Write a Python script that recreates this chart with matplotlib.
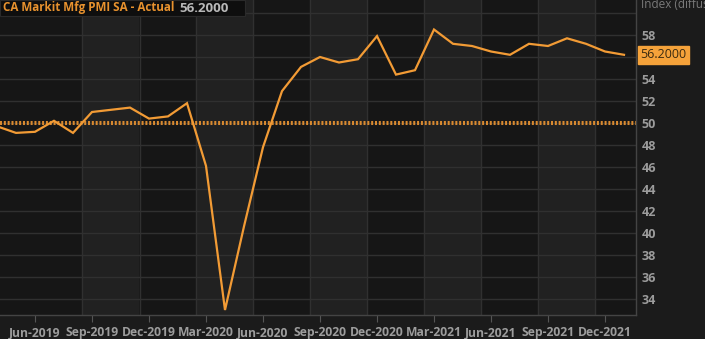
import matplotlib
matplotlib.use("Agg")
import matplotlib.pyplot as plt
from matplotlib.patches import Rectangle

# ---- data ----
months = ["Apr-2019", "May-2019", "Jun-2019", "Jul-2019", "Aug-2019", "Sep-2019", "Oct-2019",
          "Nov-2019", "Dec-2019", "Jan-2020", "Feb-2020", "Mar-2020", "Apr-2020", "May-2020",
          "Jun-2020", "Jul-2020", "Aug-2020", "Sep-2020", "Oct-2020", "Nov-2020", "Dec-2020",
          "Jan-2021", "Feb-2021", "Mar-2021", "Apr-2021", "May-2021", "Jun-2021", "Jul-2021",
          "Aug-2021", "Sep-2021", "Oct-2021", "Nov-2021", "Dec-2021", "Jan-2022"]
pmi = [49.7, 49.1, 49.2, 50.2, 49.1, 51.0, 51.2, 51.4, 50.4, 50.6, 51.8, 46.1, 33.0, 40.6,
       47.8, 52.9, 55.1, 56.0, 55.5, 55.8, 57.9, 54.4, 54.8, 58.5, 57.2, 57.0, 56.5, 56.2,
       57.2, 57.0, 57.7, 57.2, 56.5, 56.2]
tick_labels = ["Jun-2019", "Sep-2019", "Dec-2019", "Mar-2020", "Jun-2020", "Sep-2020",
               "Dec-2020", "Mar-2021", "Jun-2021", "Sep-2021", "Dec-2021"]
y_ticks = [34, 36, 38, 40, 42, 44, 46, 48, 50, 52, 54, 58]
y_grid = [34, 36, 38, 40, 42, 44, 46, 48, 50, 52, 54, 56, 58, 60]
reference_level = 50
last_value = 56.2
series_name = "CA Markit Mfg PMI SA - Actual"
axis_title = "Index (diffusion)"

# month index: Jan-2019 = 0
x = list(range(3, 3 + len(pmi)))
tick_pos = [x[months.index(t)] for t in tick_labels]

BG = "#1b1b1b"
DARK = "#161616"
LIGHT = "#212121"
GRID = "#303030"
ORANGE = "#f29b35"
TXT = "#9c9c9c"
FONT = ["Open Sans", "DejaVu Sans"]
FS = 8.7

fig = plt.figure(figsize=(7.05, 3.39), dpi=100, facecolor=BG)
ax = fig.add_axes([0, 24 / 339, 636 / 705, 315 / 339])
ax.set_facecolor(DARK)

xmin, xmax = 5 - 35 / 19, 5 + 601 / 19
ymin, ymax = 50 - 192 / 11, 50 + 123 / 11
ax.set_xlim(xmin, xmax)
ax.set_ylim(ymin, ymax)

# alternating vertical bands; boundaries half a month before each tick after the first
bounds = [xmin] + [p - 0.5 for p in tick_pos[1:]] + [xmax]
for i in range(len(bounds) - 1):
    if i % 2 == 1:
        ax.axvspan(bounds[i], bounds[i + 1], color=LIGHT, lw=0, zorder=0)
for b in bounds[1:-1]:
    ax.axvline(b, color=GRID, lw=1.0, zorder=1)
for g in y_grid:
    ax.axhline(g, color=GRID, lw=1.0, zorder=1)

# reference dotted line at 50
ax.axhline(reference_level, color="#d98a30", lw=2.9, dashes=(0.5, 0.45), zorder=2)

ax.plot(x, pmi, color=ORANGE, lw=1.6, zorder=3, solid_joinstyle="miter")

# axes styling
for s in ["top", "left"]:
    ax.spines[s].set_visible(False)
for s in ["bottom", "right"]:
    ax.spines[s].set_color("#444444")
    ax.spines[s].set_linewidth(1.0)
ax.yaxis.tick_right()
ax.set_yticks(y_ticks)
ax.set_yticklabels([str(v) for v in y_ticks], fontsize=9, color=TXT,
                   family=FONT, fontweight="bold")
ax.tick_params(axis="y", length=0, pad=4)
ax.set_xticks(tick_pos)
ax.set_xticklabels(tick_labels, fontsize=FS, color=TXT, family=FONT, fontweight="bold")
ax.tick_params(axis="x", length=5, color="#555555", pad=3)

# axis title at top right (cut off by the figure edge, as in the source)
fig.text(641 / 705, 1 - 4 / 339, axis_title, fontsize=8.5, color="#7a7a7a",
         family=FONT, va="center", ha="left")

# legend box top-left
fig.patches.append(Rectangle((0, 1 - 16 / 339), 245 / 705, 16 / 339, transform=fig.transFigure,
                             facecolor="#0e0e0e", edgecolor="#2a2a2a", lw=0.8, zorder=5))
fig.text(3 / 705, 1 - 8 / 339, series_name, fontsize=8.4, color="#e8922e",
         family=FONT, fontweight="bold", va="center", ha="left", zorder=6)
fig.text(179 / 705, 1 - 8 / 339, f"{last_value:.4f}", fontsize=9.6, color="#b8b8b8",
         family=FONT, fontweight="bold", va="center", ha="left", zorder=6)

# last value tag
ax.annotate(f"{last_value:.4f}", xy=(1.0, last_value), xycoords=("axes fraction", "data"),
            xytext=(3, 0), textcoords="offset points", fontsize=9, color="#3a2a10",
            family=FONT, va="center", ha="left", annotation_clip=False,
            bbox=dict(boxstyle="square,pad=0.18", fc="#f5a23a", ec="#f5a23a"))

fig.savefig("out.png", dpi=100, facecolor=BG)
